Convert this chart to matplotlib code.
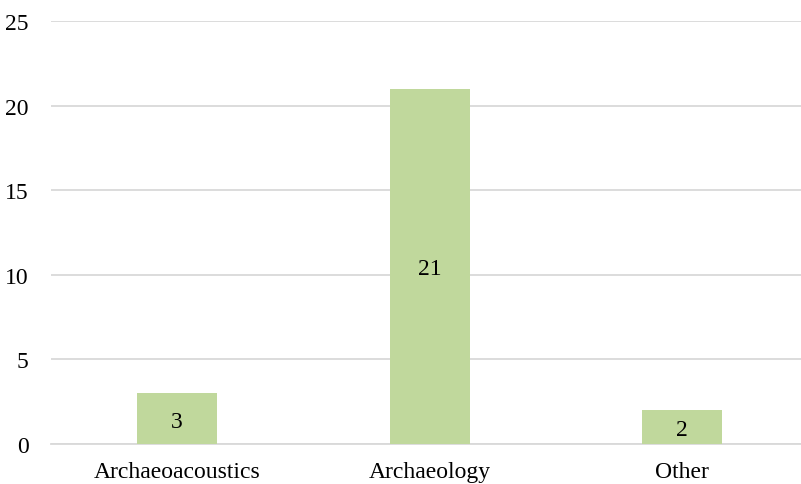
import matplotlib.pyplot as plt

# datos
categorias = ["Archaeoacoustics", "Archaeology", "Other"]
valores = [3, 21, 2]

plt.rcParams["font.family"] = ["Liberation Serif", "DejaVu Serif"]

fig = plt.figure(figsize=(8.01, 4.85), dpi=100)
ax = fig.add_axes([51 / 801, 40 / 485, 750 / 801, 423 / 485])

x = range(len(categorias))
barras = ax.bar(x, valores, width=0.317, color="#c0d89c", zorder=3)

# etiquetas dentro de las barras
for xi, v in zip(x, valores):
    ax.text(xi, v / 2, str(v), ha="center", va="center_baseline", fontsize=17, zorder=4)

ax.set_xlim(-0.499, 2.471)
ax.set_ylim(0, 25)
ax.set_yticks([0, 5, 10, 15, 20, 25])
ax.set_xticks(list(x))
ax.set_xticklabels(categorias)
ax.tick_params(axis="both", length=0, labelsize=17)
ax.tick_params(axis="y", pad=16)
ax.tick_params(axis="x", pad=12)

ax.grid(axis="y", color="#d9d9d9", linewidth=1.3, zorder=0)
for s in ["top", "right", "left"]:
    ax.spines[s].set_visible(False)
ax.spines["bottom"].set_color("#d9d9d9")
ax.spines["bottom"].set_linewidth(1.3)

fig.savefig("out.png", dpi=100)
